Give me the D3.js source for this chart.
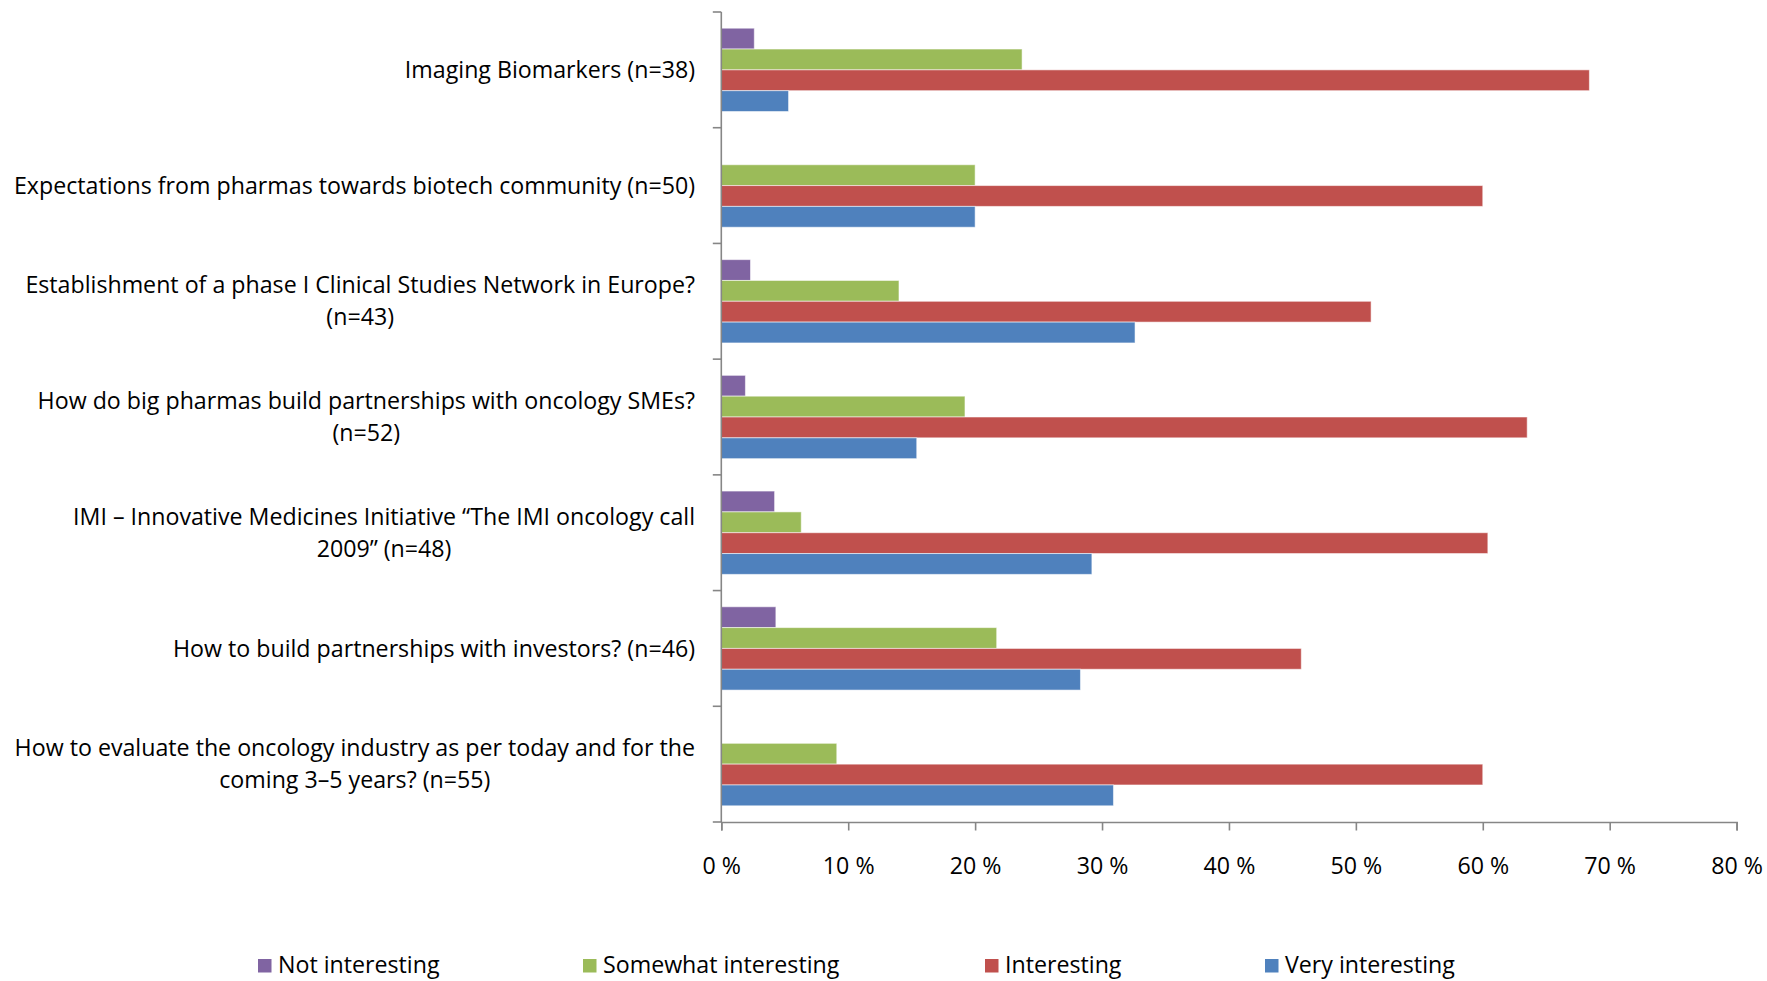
<!DOCTYPE html>
<html><head><meta charset="utf-8">
<script src="https://cdn.jsdelivr.net/npm/d3@7/dist/d3.min.js"></script>
<style>
html,body{margin:0;padding:0;background:#fff;}
svg{display:block;}
text{font-family:"Open Sans",sans-serif;fill:#000;}
</style></head>
<body>
<svg id="chart" width="1767" height="981"></svg>
<script>
const categories = [
  ["Imaging Biomarkers (n=38)"],
  ["Expectations from pharmas towards biotech community (n=50)"],
  ["Establishment of a phase I Clinical Studies Network in Europe?", "(n=43)"],
  ["How do big pharmas build partnerships with oncology SMEs?", "(n=52)"],
  ["IMI – Innovative Medicines Initiative “The IMI oncology call", "2009” (n=48)"],
  ["How to build partnerships with investors? (n=46)"],
  ["How to evaluate the oncology industry as per today and for the", "coming 3–5 years? (n=55)"]
];
const seriesNames = ["Not interesting", "Somewhat interesting", "Interesting", "Very interesting"];
const seriesColors = ["#8064A2", "#9BBB59", "#C0504D", "#4F81BD"];
const notInteresting      = [2.6, 0, 2.3, 1.9, 4.2, 4.3, 0];
const somewhatInteresting = [23.7, 20.0, 14.0, 19.2, 6.3, 21.7, 9.1];
const interesting         = [68.4, 60.0, 51.2, 63.5, 60.4, 45.7, 60.0];
const veryInteresting     = [5.3, 20.0, 32.6, 15.4, 29.2, 28.3, 30.9];
const xTicks = [0, 10, 20, 30, 40, 50, 60, 70, 80];
const xTickLabels = ["0 %", "10 %", "20 %", "30 %", "40 %", "50 %", "60 %", "70 %", "80 %"];

const seriesValues = [notInteresting, somewhatInteresting, interesting, veryInteresting];

const svg = d3.select("#chart");
const mLeft = 721.3, mRight = 1736.6, mTop = 12, mBottom = 822;
const FS = 23.2;

const x = d3.scaleLinear().domain([0, 80]).range([mLeft, mRight]);
const y = d3.scaleBand().domain(d3.range(categories.length)).range([mTop, mBottom]).padding(0);
const bw = y.bandwidth();
const pad = bw * 0.14;
const ys = d3.scaleBand().domain(d3.range(seriesNames.length)).range([pad, bw - pad]).padding(0);

// bars
const g = svg.append("g");
g.selectAll("g.cat").data(categories).join("g")
  .attr("class", "cat")
  .attr("transform", (d, i) => `translate(0,${y(i)})`)
  .each(function(d, ci) {
    const gg = d3.select(this);
    const rows = seriesValues.map((vals, si) => ({si, v: vals[ci]})).filter(r => r.v > 0);
    gg.selectAll("rect").data(rows).join("rect")
      .attr("x", x(0))
      .attr("y", r => ys(r.si))
      .attr("width", r => x(r.v) - x(0))
      .attr("height", ys.bandwidth())
      .attr("fill", r => seriesColors[r.si])
      .attr("stroke", "rgba(255,255,255,0.55)")
      .attr("stroke-width", 1);
  });

// y axis
const yAxisG = svg.append("g").attr("transform", `translate(${mLeft},0)`);
yAxisG.append("line").attr("x1", 0).attr("x2", 0).attr("y1", mTop).attr("y2", mBottom)
  .attr("stroke", "#868686").attr("stroke-width", 1.6);
yAxisG.selectAll("line.tk").data(d3.range(categories.length + 1)).join("line")
  .attr("class", "tk")
  .attr("x1", -8.5).attr("x2", 0)
  .attr("y1", i => mTop + i * bw).attr("y2", i => mTop + i * bw)
  .attr("stroke", "#868686").attr("stroke-width", 1.6);

// x axis
const xAxis = d3.axisBottom(x).tickValues(xTicks).tickSize(8.5).tickFormat((d, i) => xTickLabels[i]);
const xg = svg.append("g").attr("transform", `translate(0,${mBottom})`).call(xAxis);
xg.select(".domain").attr("stroke", "#868686").attr("stroke-width", 1.6);
xg.selectAll(".tick line").attr("stroke", "#868686").attr("stroke-width", 1.6);
xg.selectAll(".tick text").attr("font-size", FS).attr("font-family", "Open Sans")
  .attr("fill", "#000").attr("y", 0).attr("dy", "0.35em")
  .attr("transform", "translate(0,44)");

// category labels
const labelRight = 695;
const lineH = 32;
const lab = svg.append("g");
categories.forEach((lines, ci) => {
  const cy = y(ci) + bw / 2;
  const t = lab.append("text").attr("font-size", FS).attr("text-anchor", "middle");
  const n = lines.length;
  lines.forEach((ln, li) => {
    t.append("tspan").text(ln).attr("x", 0).attr("y", cy + (li - (n - 1) / 2) * lineH).attr("dy", "0.35em");
  });
  const w = t.node().getBBox().width;
  t.selectAll("tspan").attr("x", labelRight - w / 2);
});

// legend
const legX = [258, 583, 985, 1265];
const legY = 965;
const leg = svg.append("g");
seriesNames.forEach((nm, i) => {
  leg.append("rect").attr("x", legX[i]).attr("y", legY - 6).attr("width", 13.5).attr("height", 13.5)
    .attr("fill", seriesColors[i]);
  leg.append("text").attr("x", legX[i] + 20).attr("y", legY).attr("dy", "0.35em")
    .attr("font-size", FS).text(nm);
});
</script>
</body></html>
